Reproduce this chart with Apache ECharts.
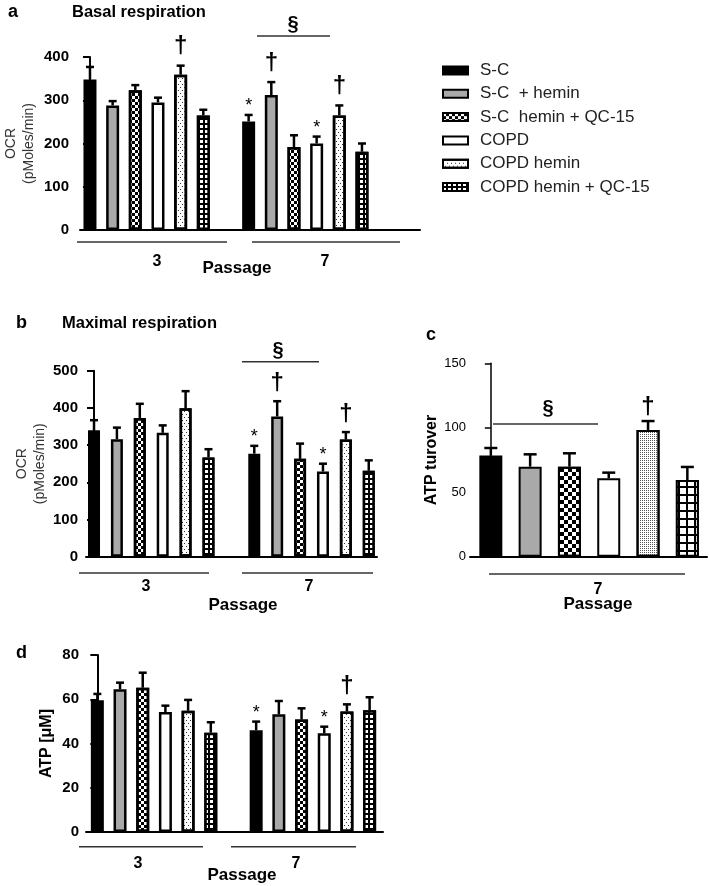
<!DOCTYPE html>
<html>
<head>
<meta charset="utf-8">
<script src="https://cdn.jsdelivr.net/npm/echarts@6/dist/echarts.min.js"></script>
<style>
html, body { margin: 0; padding: 0; background: #fff; }
#main { width: 709px; height: 886px; }
</style>
</head>
<body>
<div id="main"></div>
<script>
var FONT = '"Liberation Sans", Arial, sans-serif';

var groups = ['S-C', 'S-C  + hemin', 'S-C  hemin + QC-15', 'COPD', 'COPD hemin', 'COPD hemin + QC-15'];

// a - basal respiration, OCR (pMoles/min)
var basalP3 = [348, 288, 323, 295, 359, 265];
var basalP3Err = [29, 10, 12, 11, 21, 13];
var basalP3Sig = ['', '', '', '', '†', ''];
var basalP7 = [251, 312, 192, 200, 265, 181];
var basalP7Err = [15, 30, 27, 16, 23, 19];
var basalP7Sig = ['*', '†', '', '*', '†', ''];

// b - maximal respiration, OCR (pMoles/min)
var maxP3 = [340, 316, 373, 333, 399, 267];
var maxP3Err = [27, 31, 38, 20, 46, 22];
var maxP3Sig = ['', '', '', '', '', ''];
var maxP7 = [277, 377, 263, 229, 315, 231];
var maxP7Err = [21, 41, 41, 21, 20, 28];
var maxP7Sig = ['*', '†', '', '*', '†', ''];

// c - ATP turnover, passage 7 only
var turnP7 = [78.4, 69.8, 69.8, 60.8, 98.3, 59.5];
var turnP7Err = [5.9, 9.6, 10.4, 4.4, 6.9, 10.1];
var turnP7Sig = ['', '', '', '', '†', ''];

// d - ATP [uM]
var atpP3 = [59.5, 64.5, 65.2, 54.2, 54.8, 44.9];
var atpP3Err = [2.9, 3.0, 6.8, 2.9, 4.9, 4.7];
var atpP3Sig = ['', '', '', '', '', ''];
var atpP7 = [46.0, 53.2, 50.8, 44.6, 54.5, 55.0];
var atpP7Err = [3.9, 6.0, 5.1, 3.0, 3.2, 5.9];
var atpP7Sig = ['*', '', '', '*', '†', ''];

// slot offset of each passage group on the x axis
var P3_OFFSET = 0, P7_OFFSET = 7;

var panels = [
  {
    grid: { left: 80, top: 57, width: 340, height: 173 },
    xMin: -0.44, xMax: 14.56, yMax: 400, yStep: 100, barWidth: 13, cap: 4,
    name: 'OCR\n(pMoles/min)', nameGap: 42, nameBold: false, labelMargin: 11,
    sets: [
      { vals: basalP3, errs: basalP3Err, sig: basalP3Sig, offset: P3_OFFSET },
      { vals: basalP7, errs: basalP7Err, sig: basalP7Sig, offset: P7_OFFSET }
    ],
    dagGap: 7, starGap: 0, big: false
  },
  {
    grid: { left: 86, top: 370.7, width: 291, height: 186 },
    xMin: -0.35, xMax: 12.36, yMax: 500, yStep: 100, barWidth: 12, cap: 4,
    name: 'OCR\n(pMoles/min)', nameGap: 34, nameBold: false, labelMargin: 8,
    sets: [
      { vals: maxP3, errs: maxP3Err, sig: maxP3Sig, offset: P3_OFFSET },
      { vals: maxP7, errs: maxP7Err, sig: maxP7Sig, offset: P7_OFFSET }
    ],
    dagGap: 6, starGap: 0, big: false
  },
  {
    grid: { left: 470, top: 363.3, width: 237, height: 193.4 },
    xMin: -0.53, xMax: 5.5, yMax: 150, yStep: 50, barWidth: 23, cap: 6.5,
    name: 'ATP turover', nameGap: 22, nameBold: true, labelMargin: 4,
    sets: [
      { vals: turnP7, errs: turnP7Err, sig: turnP7Sig, offset: 0 }
    ],
    dagGap: 2, starGap: 0, big: true
  },
  {
    grid: { left: 86, top: 655, width: 297, height: 177 },
    xMin: -0.5, xMax: 12.59, yMax: 80, yStep: 20, barWidth: 13, cap: 4,
    name: 'ATP [\u03bcM]', nameGap: 30, nameBold: true, labelMargin: 7,
    sets: [
      { vals: atpP3, errs: atpP3Err, sig: atpP3Sig, offset: P3_OFFSET },
      { vals: atpP7, errs: atpP7Err, sig: atpP7Sig, offset: P7_OFFSET }
    ],
    dagGap: 6, starGap: 0, big: false
  }
];

function barStyle(k, big) {
  var s = { color: '#000', borderColor: '#000', borderWidth: big ? 2 : 2.5 };
  if (k === 1) s.color = '#a9a9a9';
  if (k === 2) {
    var c = big ? 4 : 3;
    s.color = '#fff';
    s.decal = { symbol: 'rect', symbolSize: 1, color: '#000', dashArrayX: [[c, c], [0, c, c, 0]], dashArrayY: [c, 0], rotation: 0 };
  }
  if (k === 3) s.color = '#fff';
  if (k === 4) {
    s.color = '#fff';
    s.decal = big
      ? { symbol: 'rect', symbolSize: 1, color: '#555', dashArrayX: [1, 1], dashArrayY: [1, 1], rotation: 0 }
      : { symbol: 'rect', symbolSize: 1, color: '#333', dashArrayX: [[1, 3], [0, 2, 1, 1]], dashArrayY: [1, 2], rotation: 0 };
  }
  if (k === 5) {
    s.color = '#000';
    s.decal = big
      ? { symbol: 'rect', symbolSize: 1, color: '#fff', dashArrayX: [5.5, 1.3], dashArrayY: [5.5, 1.3], rotation: 0 }
      : { symbol: 'rect', symbolSize: 1, color: '#fff', dashArrayX: [2.6, 1.6], dashArrayY: [2.6, 1.6], rotation: 0 };
  }
  return s;
}

var grids = [], xAxes = [], yAxes = [], series = [];

panels.forEach(function (p, gi) {
  grids.push(p.grid);
  xAxes.push({
    type: 'value', gridIndex: gi, min: p.xMin, max: p.xMax,
    axisLine: { show: true, lineStyle: { color: '#000', width: 2 } },
    axisTick: { show: false }, axisLabel: { show: false }, splitLine: { show: false }
  });
  yAxes.push({
    type: 'value', gridIndex: gi, min: 0, max: p.yMax, interval: p.yStep,
    name: p.name, nameLocation: 'middle', nameRotate: 90, nameGap: p.nameGap,
    nameTextStyle: {
      fontFamily: FONT, fontSize: p.nameBold ? 16 : 14, lineHeight: 18,
      fontWeight: p.nameBold ? 'bold' : 'normal', color: p.nameBold ? '#000' : '#333'
    },
    axisLine: { show: true, lineStyle: { color: '#000', width: p.big ? 1.5 : 2 } },
    axisTick: { show: true, length: p.big ? 6 : 7, lineStyle: { color: '#000', width: p.big ? 1.5 : 2 } },
    axisLabel: {
      fontFamily: FONT, fontSize: p.big ? 13 : 15, fontWeight: p.big ? 'normal' : 'bold',
      color: '#000', margin: p.labelMargin
    },
    splitLine: { show: false }
  });

  groups.forEach(function (g, k) {
    series.push({
      type: 'bar', name: g, xAxisIndex: gi, yAxisIndex: gi,
      barWidth: p.barWidth, barGap: '-100%',
      itemStyle: barStyle(k, p.big),
      data: p.sets.map(function (s) { return [s.offset + k, s.vals[k]]; })
    });
  });

  var errData = [], marks = [];
  p.sets.forEach(function (s) {
    s.vals.forEach(function (v, i) {
      errData.push([s.offset + i, v, s.errs[i]]);
      marks.push(s.sig[i]);
    });
  });
  series.push({
    type: 'custom', xAxisIndex: gi, yAxisIndex: gi, z: 5, silent: true,
    data: errData,
    renderItem: function (params, api) {
      var x = api.value(0), y = api.value(1), e = api.value(2);
      var p0 = api.coord([x, y]), p1 = api.coord([x, y + e]);
      var st = { stroke: '#000', lineWidth: 2.5 };
      var kids = [
        { type: 'line', shape: { x1: p0[0], y1: p0[1], x2: p1[0], y2: p1[1] }, style: st },
        { type: 'line', shape: { x1: p1[0] - p.cap, y1: p1[1], x2: p1[0] + p.cap, y2: p1[1] }, style: st }
      ];
      var m = marks[params.dataIndex];
      if (m === '*') {
        kids.push({ type: 'text', x: p1[0], y: p1[1] - p.starGap,
          style: { text: '*', fill: '#000', font: '18px ' + FONT, align: 'center', verticalAlign: 'bottom' } });
      } else if (m) {
        kids.push({ type: 'text', x: p1[0], y: p1[1] - p.dagGap,
          style: { text: m, fill: '#000', font: 'bold 24px ' + FONT, align: 'center', verticalAlign: 'bottom' } });
      }
      return { type: 'group', children: kids };
    }
  });
});

function txt(x, y, s, size, bold, align) {
  return {
    type: 'text', x: x, y: y,
    style: { text: s, fill: '#000', font: (bold ? 'bold ' : '') + size + 'px ' + FONT,
      align: align || 'center', verticalAlign: 'middle' }
  };
}
function hline(x1, x2, y, w) {
  return { type: 'line', shape: { x1: x1, y1: y, x2: x2, y2: y }, style: { stroke: '#333', lineWidth: w || 1.5 } };
}

var graphics = [
  // a
  txt(8, 12, 'a', 18, true, 'left'), txt(72, 12, 'Basal respiration', 16.5, true, 'left'),
  txt(293, 24, '§', 20, true), hline(257, 330, 36),
  hline(77, 227, 242), hline(252, 400, 242),
  txt(157, 262, '3', 16, true), txt(325, 262, '7', 16, true), txt(237, 268, 'Passage', 17, true),
  // b
  txt(16, 323, 'b', 18, true, 'left'), txt(62, 323, 'Maximal respiration', 16.5, true, 'left'),
  txt(278, 350, '§', 20, true), hline(242, 319, 361.7),
  hline(79, 209, 573), hline(242, 373, 573),
  txt(146, 587, '3', 16, true), txt(309, 587, '7', 16, true), txt(243, 605, 'Passage', 17, true),
  // c
  txt(426, 335, 'c', 18, true, 'left'),
  txt(548, 408, '§', 20, true), hline(493, 598, 424),
  hline(489, 685, 574),
  txt(598, 590, '7', 16, true), txt(598, 604, 'Passage', 17, true),
  // d
  txt(16, 653, 'd', 18, true, 'left'),
  hline(79, 203, 846.7), hline(231, 356, 846.7),
  txt(138, 864, '3', 16, true), txt(296, 864, '7', 16, true), txt(242, 875, 'Passage', 17, true)
];

var chart = echarts.init(document.getElementById('main'));
chart.setOption({
  animation: false,
  backgroundColor: '#fff',
  grid: grids,
  xAxis: xAxes,
  yAxis: yAxes,
  legend: {
    data: groups, orient: 'vertical', left: 442, top: 62, padding: 0,
    icon: 'rect', itemWidth: 25, itemHeight: 8, itemGap: 6.3, selectedMode: false,
    textStyle: { fontFamily: FONT, fontSize: 17, color: '#222', padding: [0, 0, 0, 7] }
  },
  graphic: graphics,
  series: series
});
</script>
</body>
</html>
